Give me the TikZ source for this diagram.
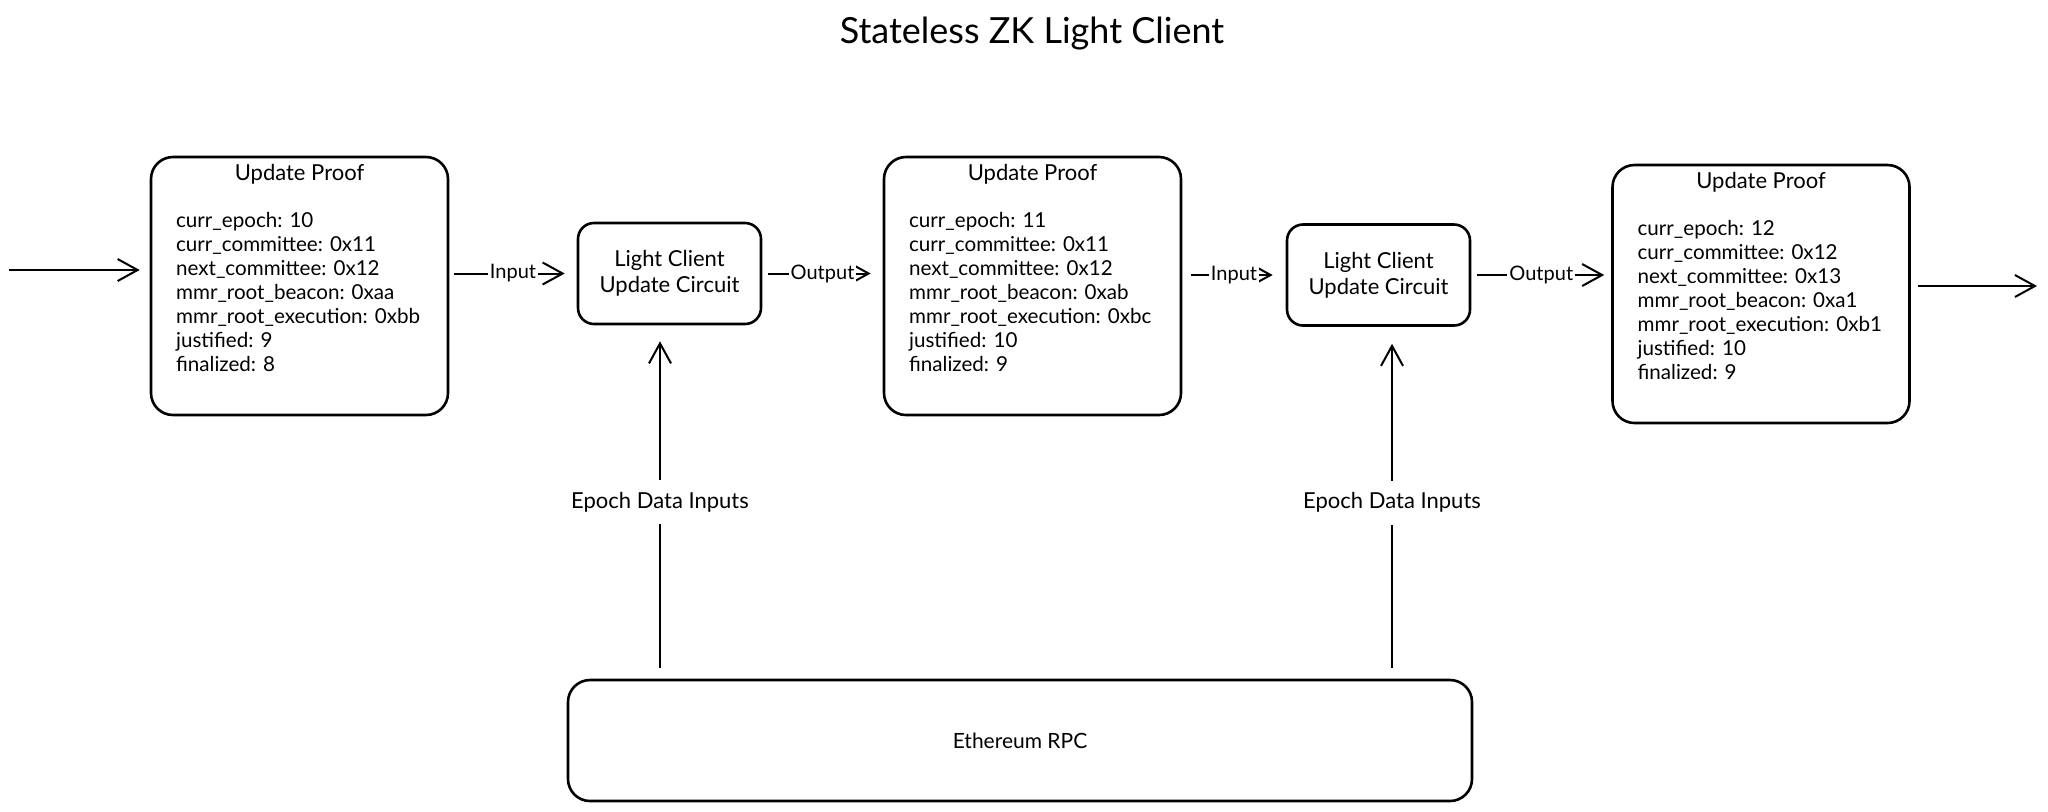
\documentclass[tikz,border=0pt]{standalone}
\usepackage{fontspec}
\setmainfont{Lato}
\usetikzlibrary{arrows.meta,positioning}

\begin{document}
\begin{tikzpicture}[x=0.5pt,y=-0.5pt,
	every node/.style={inner sep=0pt},
	proof/.style={draw, line width=1.3pt, rounded corners=11pt, minimum width=148.5pt, minimum height=129pt},
	circuit/.style={draw, line width=1.3pt, rounded corners=8pt, minimum width=91.5pt, minimum height=50.5pt, align=center, font=\fontsize{11}{13}\selectfont},
	rpcbox/.style={draw, line width=1.3pt, rounded corners=11pt, minimum width=452pt, minimum height=60.5pt, font=\fontsize{10.5}{13}\selectfont},
	head/.style={anchor=base, font=\fontsize{11}{13}\selectfont},
	field/.style={anchor=base west, font=\fontsize{10.3}{12}\selectfont},
	flow/.style={line width=1pt, -{Straight Barb[length=10pt,width=11pt,line width=1pt]}},
	tag/.style={fill=white, inner xsep=1pt, inner ysep=2pt, font=\fontsize{10}{12}\selectfont}]
	\useasboundingbox (0,0) rectangle (2048,811);
	\node[anchor=base, font=\fontsize{18}{21}\selectfont] (title) at (1032,43) {Stateless ZK Light Client};
	% update proofs
	\node[proof] (up1) at (299.5,286) {};
	\node[head] (h1) at ([yshift=-12.5pt]up1.north) {Update Proof};
	\foreach \txt [count=\i] in {curr\_epoch: 10, curr\_committee: 0x11, next\_committee: 0x12, mmr\_root\_beacon: 0xaa, mmr\_root\_execution: 0xbb, justified: 9, finalized: 8}
		\node[field] (f1-\i) at ([xshift=13pt,yshift=-24pt-12pt*\i]up1.north west) {\txt};
	\node[proof] (up2) at (1032.5,286) {};
	\node[head] (h2) at ([yshift=-12.5pt]up2.north) {Update Proof};
	\foreach \txt [count=\i] in {curr\_epoch: 11, curr\_committee: 0x11, next\_committee: 0x12, mmr\_root\_beacon: 0xab, mmr\_root\_execution: 0xbc, justified: 10, finalized: 9}
		\node[field] (f2-\i) at ([xshift=13pt,yshift=-24pt-12pt*\i]up2.north west) {\txt};
	\node[proof] (up3) at (1761,294) {};
	\node[head] (h3) at ([yshift=-12.5pt]up3.north) {Update Proof};
	\foreach \txt [count=\i] in {curr\_epoch: 12, curr\_committee: 0x12, next\_committee: 0x13, mmr\_root\_beacon: 0xa1, mmr\_root\_execution: 0xb1, justified: 10, finalized: 9}
		\node[field] (f3-\i) at ([xshift=13pt,yshift=-24pt-12pt*\i]up3.north west) {\txt};
	% circuits and rpc
	\node[circuit] (lc1) at (669.5,273.5) {Light Client\\Update Circuit};
	\node[circuit] (lc2) at (1378.5,275) {Light Client\\Update Circuit};
	\node[rpcbox] (rpc) at (1020,740.5) {Ethereum RPC};
	% connectors
	\coordinate (src) at (9,270);
	\coordinate (sink) at (2037,286);
	\coordinate (e1) at (660,0);
	\coordinate (e2) at (1392,0);
	\draw[flow, shorten >=5pt] (src) -- (src -| up1.west);
	\draw[flow, shorten <=2.5pt, shorten >=6pt] (up1.east |- lc1) -- node[tag] (in1) {Input} (lc1.west);
	\draw[flow, shorten <=3pt, shorten >=6pt] (lc1.east) -- node[tag] (out1) {Output} (lc1.east -| up2.west);
	\draw[flow, shorten <=4.5pt, shorten >=6.5pt] (up2.east |- lc2) -- node[tag] (in2) {Input} (lc2.west);
	\draw[flow, shorten <=3pt, shorten >=3.5pt] (lc2.east) -- node[tag] (out2) {Output} (lc2.east -| up3.west);
	\draw[flow, shorten <=3.5pt] (up3.east |- sink) -- (sink);
	\draw[flow, shorten <=5.5pt, shorten >=8pt] (rpc.north -| e1) -- node[tag, inner ysep=6pt, font=\fontsize{11}{13}\selectfont] (ep1) {Epoch Data Inputs} (lc1.south -| e1);
	\draw[flow, shorten <=5.5pt, shorten >=8.5pt] (rpc.north -| e2) -- node[tag, inner ysep=6pt, font=\fontsize{11}{13}\selectfont] (ep2) {Epoch Data Inputs} (lc2.south -| e2);
\end{tikzpicture}
\end{document}
